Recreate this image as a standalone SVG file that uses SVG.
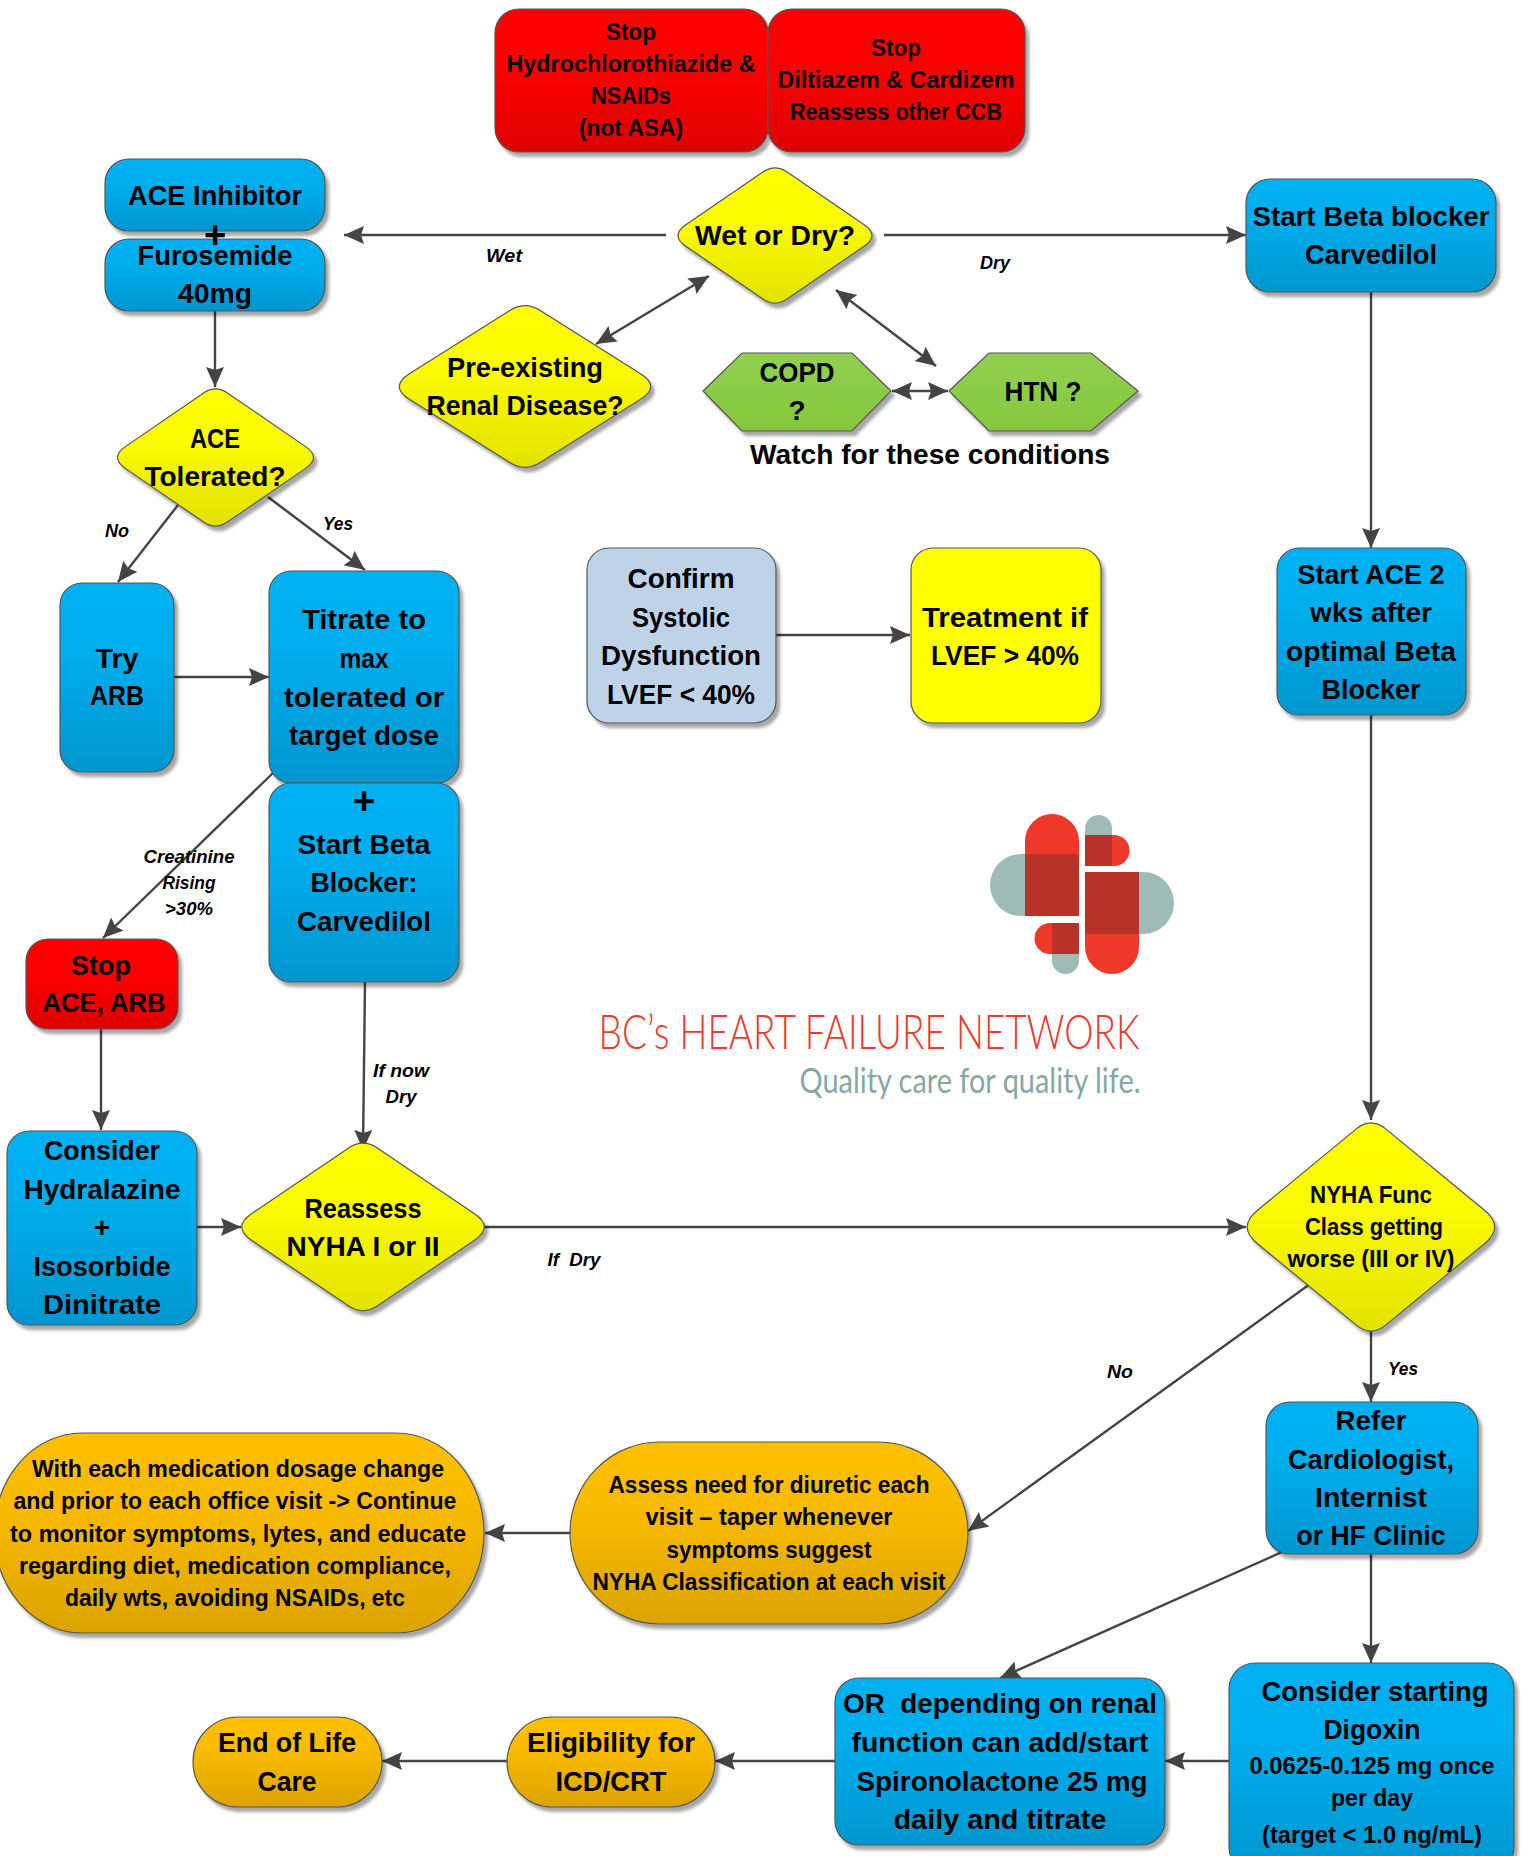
<svg xmlns="http://www.w3.org/2000/svg" xmlns:xlink="http://www.w3.org/1999/xlink" width="1522" height="1856" viewBox="0 0 1522 1856">
<style>
text{font-family:"Liberation Sans",Arial,sans-serif;font-weight:700;fill:#000;text-anchor:middle;white-space:pre}
.l{font-size:28px}.s{font-size:24px}
.e{font-size:18px;font-style:italic}
.p{font-size:38px}
.shape{stroke:#555;stroke-width:1.2}
.blue{fill:url(#gb)}.red{fill:url(#gr)}.yel{fill:url(#gy)}.ora{fill:url(#go)}.grn{fill:url(#gg)}
.lb{fill:#bed3e8}.yf{fill:#ff0}
.sh{filter:url(#ds)}
#connectors line{stroke:#444;stroke-width:2.4;fill:none;marker-end:url(#ah)}
#connectors line.both{marker-start:url(#ah)}
.lg{fill:#9fbbb7}.lr{fill:#ee3829}.ld{fill:#b8322a}
</style>
<defs>
<linearGradient id="gb" x1="0" y1="0" x2="0" y2="1"><stop offset="0" stop-color="#00b0f0"/><stop offset=".35" stop-color="#00aeee"/><stop offset="1" stop-color="#0096cf"/></linearGradient>
<linearGradient id="gr" x1="0" y1="0" x2="0" y2="1"><stop offset="0" stop-color="#f00"/><stop offset=".4" stop-color="#fc0000"/><stop offset="1" stop-color="#de0000"/></linearGradient>
<linearGradient id="gy" x1="0" y1="0" x2="0" y2="1"><stop offset="0" stop-color="#ff0"/><stop offset=".4" stop-color="#fbfb00"/><stop offset="1" stop-color="#e2e200"/></linearGradient>
<linearGradient id="go" x1="0" y1="0" x2="0" y2="1"><stop offset="0" stop-color="#ffc000"/><stop offset=".4" stop-color="#f8ba00"/><stop offset="1" stop-color="#daa300"/></linearGradient>
<linearGradient id="gg" x1="0" y1="0" x2="0" y2="1"><stop offset="0" stop-color="#92d050"/><stop offset="1" stop-color="#84c83c"/></linearGradient>
<filter id="ds" x="-10%" y="-10%" width="125%" height="125%"><feDropShadow dx="3.5" dy="4.500" stdDeviation="1.6" flood-color="#000" flood-opacity=".35"/></filter>
<marker id="ah" markerUnits="userSpaceOnUse" viewBox="0 0 20 20" refX="20" refY="10" markerWidth="20" markerHeight="20" orient="auto-start-reverse"><path d="M0,1 L20,10 L0,19 L3,10Z" fill="#444"/></marker>
<path id="dia" vector-effect="non-scaling-stroke" d="M-.91,-.16 L-.12,-.95 Q0,-1.07 .12,-.95 L.91,-.16 Q1.07,0 .91,.16 L.12,.95 Q0,1.07 -.12,.95 L-.91,.16 Q-1.07,0 -.91,-.16Z"/>
</defs>
<rect width="1522" height="1856" fill="#fff"/>

<g id="connectors">
<line x1="666" y1="235" x2="344" y2="235"/>
<line x1="884" y1="235" x2="1246" y2="235"/>
<line x1="1371" y1="291" x2="1371" y2="548"/>
<line x1="215" y1="311" x2="215" y2="387"/>
<line class="both" x1="596" y1="344" x2="709" y2="276"/>
<line class="both" x1="836" y1="290" x2="936" y2="366"/>
<line class="both" x1="892" y1="391" x2="948" y2="391"/>
<line x1="178" y1="505" x2="118" y2="582"/>
<line x1="268" y1="497" x2="365" y2="570"/>
<line x1="174" y1="677" x2="269" y2="677"/>
<line x1="776" y1="635" x2="910" y2="635"/>
<line x1="273" y1="773" x2="103" y2="938"/>
<line x1="365" y1="982" x2="363" y2="1150"/>
<line x1="101" y1="1029" x2="101" y2="1130"/>
<line x1="197" y1="1227" x2="241" y2="1227"/>
<line x1="485" y1="1227" x2="1246" y2="1227"/>
<line x1="1371" y1="715" x2="1371" y2="1120"/>
<line x1="1371" y1="1331" x2="1371" y2="1402"/>
<line x1="1310" y1="1284" x2="968" y2="1531"/>
<line x1="571" y1="1533" x2="485" y2="1533"/>
<line x1="1282" y1="1552" x2="1000" y2="1678"/>
<line x1="1371" y1="1554" x2="1371" y2="1663"/>
<line x1="1229" y1="1761" x2="1165" y2="1761"/>
<line x1="835" y1="1761" x2="715" y2="1761"/>
<line x1="507" y1="1761" x2="382" y2="1761"/>
</g>

<g id="edge-labels" class="e">
<text class="e" x="504" y="262" textLength="36" lengthAdjust="spacingAndGlyphs">Wet</text>
<text class="e" x="995" y="269" textLength="30" lengthAdjust="spacingAndGlyphs">Dry</text>
<text class="e" x="117" y="537" textLength="24" lengthAdjust="spacingAndGlyphs">No</text>
<text class="e" x="338" y="530" textLength="30" lengthAdjust="spacingAndGlyphs">Yes</text>
<text class="e" x="189" y="863" textLength="91" lengthAdjust="spacingAndGlyphs">Creatinine</text>
<text class="e" x="189" y="889" textLength="53" lengthAdjust="spacingAndGlyphs">Rising</text>
<text class="e" x="189" y="915" textLength="48" lengthAdjust="spacingAndGlyphs">&gt;30%</text>
<text class="e" x="401" y="1077" textLength="56" lengthAdjust="spacingAndGlyphs">If now</text>
<text class="e" x="401" y="1103" textLength="31" lengthAdjust="spacingAndGlyphs">Dry</text>
<text class="e" x="574" y="1266" textLength="53" lengthAdjust="spacingAndGlyphs">If  Dry</text>
<text class="e" x="1120" y="1378" textLength="26" lengthAdjust="spacingAndGlyphs">No</text>
<text class="e" x="1403" y="1375" textLength="30" lengthAdjust="spacingAndGlyphs">Yes</text>
</g>

<g id="stop-hctz"><g class="sh"><rect class="shape red" x="495" y="9" width="273" height="143" rx="24"/></g>
<text class="s" x="631" y="40" textLength="50" lengthAdjust="spacingAndGlyphs">Stop</text>
<text class="s" x="631" y="72" textLength="249" lengthAdjust="spacingAndGlyphs">Hydrochlorothiazide &amp;</text>
<text class="s" x="631" y="104" textLength="80" lengthAdjust="spacingAndGlyphs">NSAIDs</text>
<text class="s" x="631" y="136" textLength="104" lengthAdjust="spacingAndGlyphs">(not ASA)</text></g>

<g id="stop-diltiazem"><g class="sh"><rect class="shape red" x="768" y="9" width="257" height="143" rx="24"/></g>
<text class="s" x="896" y="56" textLength="50" lengthAdjust="spacingAndGlyphs">Stop</text>
<text class="s" x="896" y="88" textLength="237" lengthAdjust="spacingAndGlyphs">Diltiazem &amp; Cardizem</text>
<text class="s" x="896" y="120" textLength="212" lengthAdjust="spacingAndGlyphs">Reassess other CCB</text></g>

<g id="wet-or-dry"><g class="sh"><use class="shape yel" href="#dia" transform="translate(775,235.500) scale(98,67)"/></g>
<text class="l" x="775" y="245" textLength="160" lengthAdjust="spacingAndGlyphs">Wet or Dry?</text></g>

<g id="start-beta"><g class="sh"><rect class="shape blue" x="1246" y="179" width="250" height="113" rx="24"/></g>
<text class="l" x="1371" y="226" textLength="237" lengthAdjust="spacingAndGlyphs">Start Beta blocker</text>
<text class="l" x="1371" y="264" textLength="132" lengthAdjust="spacingAndGlyphs">Carvedilol</text></g>

<g id="ace-inhibitor"><g class="sh"><rect class="shape blue" x="105" y="159" width="220" height="72" rx="24"/></g>
<text class="l" x="215" y="205" textLength="174" lengthAdjust="spacingAndGlyphs">ACE Inhibitor</text></g>
<g id="furosemide"><g class="sh"><rect class="shape blue" x="105" y="239" width="220" height="72" rx="24"/></g>
<text class="p" x="215" y="248">+</text>
<text class="l" x="215" y="265" textLength="155" lengthAdjust="spacingAndGlyphs">Furosemide</text>
<text class="l" x="215" y="303" textLength="74" lengthAdjust="spacingAndGlyphs">40mg</text></g>

<g id="ace-tolerated"><g class="sh"><use class="shape yel" href="#dia" transform="translate(215.500,457.500) scale(99,68)"/></g>
<text class="l" x="215" y="448" textLength="50" lengthAdjust="spacingAndGlyphs">ACE</text>
<text class="l" x="215" y="486" textLength="141" lengthAdjust="spacingAndGlyphs">Tolerated?</text></g>

<g id="renal"><g class="sh"><use class="shape yel" href="#dia" transform="translate(525,386.500) scale(127,80)"/></g>
<text class="l" x="525" y="377" textLength="156" lengthAdjust="spacingAndGlyphs">Pre-existing</text>
<text class="l" x="525" y="415" textLength="197" lengthAdjust="spacingAndGlyphs">Renal Disease?</text></g>

<g id="copd"><g class="sh"><polygon class="shape grn" points="703,391 742,353 852,353 891,391 852,431 742,431"/></g>
<text class="l" x="797" y="382" textLength="75" lengthAdjust="spacingAndGlyphs">COPD</text>
<text class="l" x="797" y="420">?</text></g>
<g id="htn"><g class="sh"><polygon class="shape grn" points="949,391 989,353 1091,353 1138,391 1091,431 989,431"/></g>
<text class="l" x="1043" y="401" textLength="77" lengthAdjust="spacingAndGlyphs">HTN ?</text></g>
<text class="l" x="930" y="464" textLength="360" lengthAdjust="spacingAndGlyphs">Watch for these conditions</text>

<g id="try-arb"><g class="sh"><rect class="shape blue" x="60" y="583" width="114" height="189" rx="22"/></g>
<text class="l" x="117" y="668" textLength="43" lengthAdjust="spacingAndGlyphs">Try</text>
<text class="l" x="117" y="705" textLength="54" lengthAdjust="spacingAndGlyphs">ARB</text></g>

<g id="titrate"><g class="sh"><rect class="shape blue" x="269" y="571" width="190" height="212" rx="22"/></g>
<text class="l" x="364" y="629" textLength="124" lengthAdjust="spacingAndGlyphs">Titrate to</text>
<text class="l" x="364" y="668" textLength="49" lengthAdjust="spacingAndGlyphs">max</text>
<text class="l" x="364" y="707" textLength="160" lengthAdjust="spacingAndGlyphs">tolerated or</text>
<text class="l" x="364" y="745" textLength="150" lengthAdjust="spacingAndGlyphs">target dose</text></g>

<g id="start-beta-blocker"><g class="sh"><rect class="shape blue" x="269" y="783" width="190" height="199" rx="22"/></g>
<text class="p" x="364" y="814">+</text>
<text class="l" x="364" y="854" textLength="133" lengthAdjust="spacingAndGlyphs">Start Beta</text>
<text class="l" x="364" y="892" textLength="107" lengthAdjust="spacingAndGlyphs">Blocker:</text>
<text class="l" x="364" y="931" textLength="134" lengthAdjust="spacingAndGlyphs">Carvedilol</text></g>

<g id="confirm"><g class="sh"><rect class="shape lb" x="587" y="548" width="189" height="175" rx="22"/></g>
<text class="l" x="681" y="588" textLength="107" lengthAdjust="spacingAndGlyphs">Confirm</text>
<text class="l" x="681" y="627" textLength="98" lengthAdjust="spacingAndGlyphs">Systolic</text>
<text class="l" x="681" y="665" textLength="160" lengthAdjust="spacingAndGlyphs">Dysfunction</text>
<text class="l" x="681" y="704" textLength="148" lengthAdjust="spacingAndGlyphs">LVEF &lt; 40%</text></g>

<g id="treatment"><g class="sh"><rect class="shape yf" x="911" y="548" width="190" height="175" rx="22"/></g>
<text class="l" x="1005" y="627" textLength="166" lengthAdjust="spacingAndGlyphs">Treatment if</text>
<text class="l" x="1005" y="665" textLength="148" lengthAdjust="spacingAndGlyphs">LVEF &gt; 40%</text></g>

<g id="start-ace"><g class="sh"><rect class="shape blue" x="1277" y="548" width="189" height="167" rx="22"/></g>
<text class="l" x="1371" y="584" textLength="147" lengthAdjust="spacingAndGlyphs">Start ACE 2</text>
<text class="l" x="1371" y="622" textLength="122" lengthAdjust="spacingAndGlyphs">wks after</text>
<text class="l" x="1371" y="661" textLength="170" lengthAdjust="spacingAndGlyphs">optimal Beta</text>
<text class="l" x="1371" y="699" textLength="99" lengthAdjust="spacingAndGlyphs">Blocker</text></g>

<g id="stop-ace"><g class="sh"><rect class="shape red" x="26" y="939" width="152" height="90" rx="22"/></g>
<text class="l" x="101" y="975" textLength="60" lengthAdjust="spacingAndGlyphs">Stop</text>
<text class="l" x="104" y="1012" textLength="123" lengthAdjust="spacingAndGlyphs">ACE, ARB</text></g>

<g id="hydralazine"><g class="sh"><rect class="shape blue" x="7" y="1131" width="190" height="194" rx="22"/></g>
<text class="l" x="102" y="1160" textLength="116" lengthAdjust="spacingAndGlyphs">Consider</text>
<text class="l" x="102" y="1199" textLength="157" lengthAdjust="spacingAndGlyphs">Hydralazine</text>
<text class="l" x="102" y="1237">+</text>
<text class="l" x="102" y="1276" textLength="137" lengthAdjust="spacingAndGlyphs">Isosorbide</text>
<text class="l" x="102" y="1314" textLength="118" lengthAdjust="spacingAndGlyphs">Dinitrate</text></g>

<g id="reassess"><g class="sh"><use class="shape yel" href="#dia" transform="translate(363,1227) scale(122.500,83)"/></g>
<text class="l" x="363" y="1218" textLength="117" lengthAdjust="spacingAndGlyphs">Reassess</text>
<text class="l" x="363" y="1256" textLength="153" lengthAdjust="spacingAndGlyphs">NYHA I or II</text></g>

<g id="nyha"><g class="sh"><use class="shape yel" href="#dia" transform="translate(1371,1227) scale(125,103)"/></g>
<text class="s" x="1371" y="1203" textLength="122" lengthAdjust="spacingAndGlyphs">NYHA Func</text>
<text class="s" x="1374" y="1235" textLength="138" lengthAdjust="spacingAndGlyphs">Class getting</text>
<text class="s" x="1371" y="1267" textLength="167" lengthAdjust="spacingAndGlyphs">worse (III or IV)</text></g>

<g id="refer"><g class="sh"><rect class="shape blue" x="1266" y="1402" width="212" height="152" rx="24"/></g>
<text class="l" x="1371" y="1430" textLength="71" lengthAdjust="spacingAndGlyphs">Refer</text>
<text class="l" x="1371" y="1469" textLength="166" lengthAdjust="spacingAndGlyphs">Cardiologist,</text>
<text class="l" x="1371" y="1507" textLength="112" lengthAdjust="spacingAndGlyphs">Internist</text>
<text class="l" x="1371" y="1545" textLength="149" lengthAdjust="spacingAndGlyphs">or HF Clinic</text></g>

<g id="assess"><g class="sh"><rect class="shape ora" x="570" y="1442" width="398" height="182" rx="90" ry="91"/></g>
<text class="s" x="769" y="1493" textLength="321" lengthAdjust="spacingAndGlyphs">Assess need for diuretic each</text>
<text class="s" x="769" y="1525" textLength="247" lengthAdjust="spacingAndGlyphs">visit – taper whenever</text>
<text class="s" x="769" y="1558" textLength="205" lengthAdjust="spacingAndGlyphs">symptoms suggest</text>
<text class="s" x="769" y="1590" textLength="353" lengthAdjust="spacingAndGlyphs">NYHA Classification at each visit</text></g>

<g id="monitor"><g class="sh"><rect class="shape ora" x="-6" y="1433" width="490" height="200" rx="88" ry="100"/></g>
<text class="s" x="238" y="1477" textLength="412" lengthAdjust="spacingAndGlyphs">With each medication dosage change</text>
<text class="s" x="235" y="1509" textLength="443" lengthAdjust="spacingAndGlyphs">and prior to each office visit -&gt; Continue</text>
<text class="s" x="238" y="1542" textLength="456" lengthAdjust="spacingAndGlyphs">to monitor symptoms, lytes, and educate</text>
<text class="s" x="235" y="1574" textLength="432" lengthAdjust="spacingAndGlyphs">regarding diet, medication compliance,</text>
<text class="s" x="235" y="1606" textLength="340" lengthAdjust="spacingAndGlyphs">daily wts, avoiding NSAIDs, etc</text></g>

<g id="digoxin"><g class="sh"><rect class="shape blue" x="1229" y="1663" width="285" height="210" rx="26"/></g>
<text class="l" x="1375" y="1701" textLength="227" lengthAdjust="spacingAndGlyphs">Consider starting</text>
<text class="l" x="1372" y="1739" textLength="97" lengthAdjust="spacingAndGlyphs">Digoxin</text>
<text class="s" x="1372" y="1774" textLength="245" lengthAdjust="spacingAndGlyphs">0.0625-0.125 mg once</text>
<text class="s" x="1372" y="1806" textLength="82" lengthAdjust="spacingAndGlyphs">per day</text>
<text class="s" x="1372" y="1843" textLength="220" lengthAdjust="spacingAndGlyphs">(target &lt; 1.0 ng/mL)</text></g>

<g id="spironolactone"><g class="sh"><rect class="shape blue" x="835" y="1678" width="330" height="167" rx="24"/></g>
<text class="l" x="1000" y="1713" textLength="314" lengthAdjust="spacingAndGlyphs">OR  depending on renal</text>
<text class="l" x="1000" y="1752" textLength="297" lengthAdjust="spacingAndGlyphs">function can add/start</text>
<text class="l" x="1002" y="1791" textLength="291" lengthAdjust="spacingAndGlyphs">Spironolactone 25 mg</text>
<text class="l" x="1000" y="1829" textLength="213" lengthAdjust="spacingAndGlyphs">daily and titrate</text></g>

<g id="icd"><g class="sh"><rect class="shape ora" x="507" y="1717" width="208" height="90" rx="45"/></g>
<text class="l" x="611" y="1752" textLength="168" lengthAdjust="spacingAndGlyphs">Eligibility for</text>
<text class="l" x="611" y="1791" textLength="111" lengthAdjust="spacingAndGlyphs">ICD/CRT</text></g>

<g id="end-of-life"><g class="sh"><rect class="shape ora" x="193" y="1717" width="189" height="90" rx="45"/></g>
<text class="l" x="287" y="1752" textLength="138" lengthAdjust="spacingAndGlyphs">End of Life</text>
<text class="l" x="287" y="1791" textLength="59" lengthAdjust="spacingAndGlyphs">Care</text></g>

<g id="logo">
<path class="lg" d="M1025,854 H1021 A31,31 0 0 0 1021,916 H1025Z"/>
<path class="lr" d="M1025,854 V841 A27,27 0 0 1 1079,841 V854Z"/>
<rect class="ld" x="1025" y="854" width="54" height="62"/>
<path class="lg" d="M1085,835 V828.500 A13.500,13.500 0 0 1 1112,828.500 V835Z"/>
<path class="lr" d="M1112,835 H1114 A15.500,15.500 0 0 1 1114,866 H1112Z"/>
<rect class="ld" x="1085" y="835" width="27" height="31"/>
<path class="lg" d="M1139,872 H1143 A31,31 0 0 1 1143,934 H1139Z"/>
<path class="lr" d="M1085,934 V947 A27,27 0 0 0 1139,947 V934Z"/>
<rect class="ld" x="1085" y="872" width="54" height="62"/>
<path class="lr" d="M1052,923 H1050 A15.500,15.500 0 0 0 1050,954 H1052Z"/>
<path class="lg" d="M1052,954 V960.500 A13.500,13.500 0 0 0 1079,960.500 V954Z"/>
<rect class="ld" x="1052" y="923" width="27" height="31"/>
<text x="869" y="1049" textLength="541" lengthAdjust="spacingAndGlyphs" style="font-family:Lato,'Open Sans',sans-serif;font-weight:300;font-size:48px;fill:#ee3829">BC’s HEART FAILURE NETWORK</text>
<text x="970" y="1093" textLength="341" lengthAdjust="spacingAndGlyphs" style="font-family:Lato,'Open Sans',sans-serif;font-weight:400;font-size:35px;fill:#86a8a4">Quality care for quality life.</text>
</g>
</svg>
